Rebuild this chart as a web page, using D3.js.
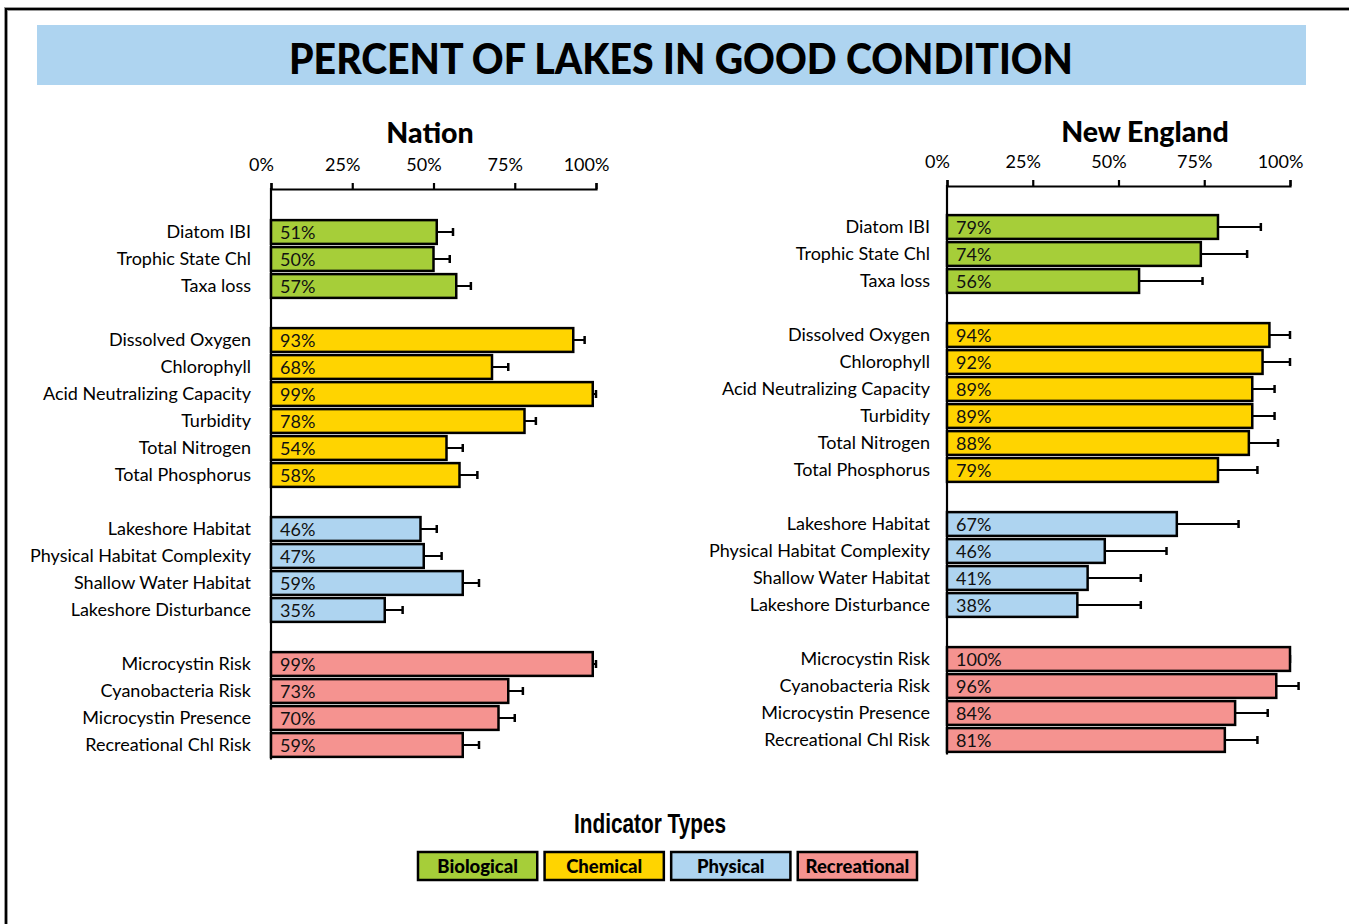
<!DOCTYPE html>
<html>
<head>
<meta charset="utf-8">
<script src="https://cdn.jsdelivr.net/npm/d3@7"></script>
<style>
  html, body { margin: 0; padding: 0; background: #fff; }
  svg { display: block; }
</style>
</head>
<body>
<div id="chart"></div>
<script>
// ---------------- data ----------------
var groups = ["Biological", "Chemical", "Physical", "Recreational"];
var groupColors = ["#a6ce39", "#ffd400", "#aed4f0", "#f59390"];

var categories = [
    "Diatom IBI", "Trophic State Chl", "Taxa loss",
    "Dissolved Oxygen", "Chlorophyll", "Acid Neutralizing Capacity", "Turbidity", "Total Nitrogen", "Total Phosphorus",
    "Lakeshore Habitat", "Physical Habitat Complexity", "Shallow Water Habitat", "Lakeshore Disturbance",
    "Microcystin Risk", "Cyanobacteria Risk", "Microcystin Presence", "Recreational Chl Risk"
];
var categoryGroup = [0, 0, 0, 1, 1, 1, 1, 1, 1, 2, 2, 2, 2, 3, 3, 3, 3];

var nationValues = [51, 50, 57, 93, 68, 99, 78, 54, 58, 46, 47, 59, 35, 99, 73, 70, 59];
var nationUpper = [56, 55, 61.5, 96.5, 73, 100, 81.5, 59, 63.5, 51, 52.5, 64, 40.5, 100, 77.5, 75, 64];

var neValues = [79, 74, 56, 94, 92, 89, 89, 88, 79, 67, 46, 41, 38, 100, 96, 84, 81];
var neUpper = [91.5, 87.5, 74.5, 100, 100, 95.5, 95.5, 96.5, 90.5, 85, 64, 56.5, 56.5, 100, 102.5, 93.5, 90.5];

var xTicks = [0, 25, 50, 75, 100];

// ---------------- page ----------------
var width = 1349, height = 924;
var svg = d3.select("#chart").append("svg")
    .attr("width", width)
    .attr("height", height);

var labelFont = "Lato, 'Open Sans', sans-serif";

// frame
svg.append("rect")
    .attr("x", 6).attr("y", 9)
    .attr("width", 1400).attr("height", 1000)
    .attr("fill", "none")
    .attr("stroke", "#999")
    .attr("stroke-width", 4);
svg.append("rect")
    .attr("x", 6).attr("y", 9)
    .attr("width", 1400).attr("height", 1000)
    .attr("fill", "none")
    .attr("stroke", "#000")
    .attr("stroke-width", 2);

// title band
svg.append("rect")
    .attr("x", 37).attr("y", 25)
    .attr("width", 1269).attr("height", 60)
    .attr("fill", "#aed4f0");
svg.append("text")
    .attr("x", 681).attr("y", 74)
    .attr("text-anchor", "middle")
    .attr("font-family", labelFont)
    .attr("font-weight", "900")
    .attr("font-size", "42px")
    .attr("textLength", 784)
    .attr("lengthAdjust", "spacingAndGlyphs")
    .attr("fill", "#000")
    .text("PERCENT OF LAKES IN GOOD CONDITION");

// slot keys: categories plus a blank slot after each group
var slots = [];
groups.forEach(function(g, gi) {
    categories.forEach(function(c, ci) {
        if(categoryGroup[ci] === gi) slots.push(c);
    });
    slots.push("gap" + gi);
});

function drawPanel(opt) {
    var x = d3.scaleLinear().domain([0, 100]).range([opt.x0, opt.x1]);
    var y = d3.scaleBand().domain(slots).range([opt.yTop, opt.yTop + slots.length * 27]);
    var step = y.step();
    var barH = step * 0.88;

    var g = svg.append("g");

    g.append("text")
        .attr("x", opt.titleX).attr("y", opt.titleY)
        .attr("text-anchor", "middle")
        .attr("font-family", labelFont)
        .attr("font-weight", "900")
        .attr("font-size", "28.5px")
        .text(opt.title);

    // top axis
    var axis = g.append("g")
        .attr("transform", "translate(0," + opt.axisY + ")")
        .call(d3.axisTop(x)
            .tickValues(xTicks)
            .tickFormat(function(d) { return d + "%"; })
            .tickSize(6)
            .tickSizeOuter(6)
            .tickPadding(12));
    axis.selectAll("path, line")
        .attr("stroke", "#000")
        .attr("stroke-width", 2.2);
    axis.selectAll("text")
        .attr("x", -10)
        .attr("font-family", labelFont)
        .attr("font-size", "18px")
        .attr("fill", "#000");

    // vertical axis line
    g.append("line")
        .attr("x1", x(0)).attr("x2", x(0))
        .attr("y1", opt.axisY - 1)
        .attr("y2", y.range()[1] - step + 1)
        .attr("stroke", "#000")
        .attr("stroke-width", 2.2);

    var rows = categories.map(function(c, i) {
        return { name: c, value: opt.values[i], upper: opt.upper[i], group: categoryGroup[i] };
    });

    // category labels
    g.selectAll("text.cat")
        .data(rows)
        .enter()
        .append("text")
        .attr("class", "cat")
        .attr("x", x(0) - opt.labelPad)
        .attr("y", function(d) { return y(d.name) + step / 2; })
        .attr("dy", "0.36em")
        .attr("text-anchor", "end")
        .attr("font-family", labelFont)
        .attr("font-size", "18px")
        .attr("fill", "#000")
        .text(function(d) { return d.name; });

    // error bars
    var err = g.selectAll("g.err")
        .data(rows)
        .enter()
        .append("g")
        .attr("class", "err");
    err.append("line")
        .attr("x1", function(d) { return x(d.value); })
        .attr("x2", function(d) { return x(d.upper); })
        .attr("y1", function(d) { return y(d.name) + step / 2; })
        .attr("y2", function(d) { return y(d.name) + step / 2; })
        .attr("stroke", "#000")
        .attr("stroke-width", 2);
    err.append("line")
        .attr("x1", function(d) { return x(d.upper); })
        .attr("x2", function(d) { return x(d.upper); })
        .attr("y1", function(d) { return y(d.name) + step / 2 - 4; })
        .attr("y2", function(d) { return y(d.name) + step / 2 + 4; })
        .attr("stroke", "#000")
        .attr("stroke-width", 2.5);

    // bars
    g.selectAll("rect.bar")
        .data(rows)
        .enter()
        .append("rect")
        .attr("class", "bar")
        .attr("x", x(0))
        .attr("y", function(d) { return y(d.name) + (step - barH) / 2; })
        .attr("width", function(d) { return x(d.value) - x(0); })
        .attr("height", barH)
        .attr("fill", function(d) { return groupColors[d.group]; })
        .attr("stroke", "#000")
        .attr("stroke-width", 2.5);

    // value labels
    g.selectAll("text.val")
        .data(rows)
        .enter()
        .append("text")
        .attr("class", "val")
        .attr("x", x(0) + 9)
        .attr("y", function(d) { return y(d.name) + step / 2 + 7; })
        .attr("font-family", labelFont)
        .attr("font-size", "18px")
        .attr("fill", "#111")
        .text(function(d) { return d.value + "%"; });
}

drawPanel({
    title: "Nation", titleX: 430, titleY: 143,
    x0: 271, x1: 596, axisY: 189, yTop: 218.5, labelPad: 20,
    values: nationValues, upper: nationUpper
});

drawPanel({
    title: "New England", titleX: 1145, titleY: 142,
    x0: 947, x1: 1290, axisY: 186, yTop: 213.5, labelPad: 17,
    values: neValues, upper: neUpper
});

// legend
svg.append("text")
    .attr("x", 650).attr("y", 833)
    .attr("text-anchor", "middle")
    .attr("font-family", "'Liberation Sans Narrow', 'Arial Narrow', sans-serif")
    .attr("font-weight", "bold")
    .attr("font-size", "27px")
    .attr("textLength", 152)
    .attr("lengthAdjust", "spacingAndGlyphs")
    .text("Indicator Types");

var lx = d3.scaleBand().domain(groups).range([418, 917]).paddingInner(0.058);
var leg = svg.selectAll("g.leg")
    .data(groups)
    .enter()
    .append("g")
    .attr("class", "leg");
leg.append("rect")
    .attr("x", function(d) { return lx(d); })
    .attr("y", 852)
    .attr("width", lx.bandwidth())
    .attr("height", 28)
    .attr("fill", function(d, i) { return groupColors[i]; })
    .attr("stroke", "#000")
    .attr("stroke-width", 2.5);
leg.append("text")
    .attr("x", function(d) { return lx(d) + lx.bandwidth() / 2; })
    .attr("y", 873)
    .attr("text-anchor", "middle")
    .attr("font-family", labelFont)
    .attr("font-weight", "900")
    .attr("font-size", "18.5px")
    .text(function(d) { return d; });
</script>
</body>
</html>
